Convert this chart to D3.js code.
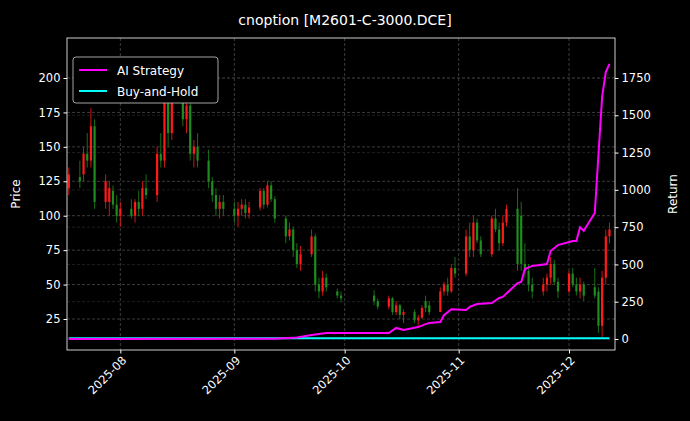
<!DOCTYPE html>
<html><head><meta charset="utf-8">
<script src="https://cdn.jsdelivr.net/npm/d3@7"></script>
<style>body{margin:0;background:#000;}svg{display:block;font-family:"DejaVu Sans",sans-serif;}</style>
</head><body><svg id="c" width="690" height="421"></svg>
<script>
const candles = [
["2025-07-18",120,135,115,130],["2025-07-21",128,140,120,125],["2025-07-22",130,150,125,145],["2025-07-23",145,160,135,140],["2025-07-24",140,178,135,165],["2025-07-25",165,170,105,110],
["2025-07-28",110,130,105,125],["2025-07-29",110,125,100,120],["2025-07-30",118,122,105,108],["2025-07-31",108,115,95,100],["2025-08-01",100,110,92,105],
["2025-08-04",105,112,98,100],["2025-08-05",100,112,95,110],["2025-08-06",110,118,100,105],["2025-08-07",105,125,100,120],["2025-08-08",120,130,112,115],
["2025-08-11",115,150,110,145],["2025-08-12",145,160,135,140],["2025-08-13",140,200,135,190],["2025-08-14",190,195,150,160],["2025-08-15",160,190,155,185],
["2025-08-18",185,195,165,170],["2025-08-19",170,185,160,180],["2025-08-20",180,182,140,145],["2025-08-21",145,155,135,150],["2025-08-22",150,160,135,140],
["2025-08-25",140,148,120,125],["2025-08-26",125,128,110,115],["2025-08-27",115,120,100,105],["2025-08-28",105,115,98,110],["2025-08-29",110,115,100,105],
["2025-09-01",105,110,95,100],["2025-09-02",100,110,92,105],["2025-09-03",105,112,100,108],["2025-09-04",108,112,98,102],["2025-09-05",102,110,98,106],
["2025-09-08",106,120,104,118],["2025-09-09",118,120,105,108],["2025-09-10",108,125,106,122],["2025-09-11",122,125,110,112],["2025-09-12",112,114,95,98],
["2025-09-15",98,100,80,85],["2025-09-16",85,95,82,90],["2025-09-17",90,92,70,75],["2025-09-18",75,80,62,65],["2025-09-19",65,78,60,72],
["2025-09-22",72,90,70,85],["2025-09-23",85,87,45,50],["2025-09-24",50,55,40,45],["2025-09-25",45,60,42,55],["2025-09-26",55,58,45,48],
["2025-09-29",45,47,40,42],["2025-09-30",42,45,37,40],
["2025-10-09",42,46,35,38],["2025-10-10",38,40,32,34],
["2025-10-13",34,42,32,40],["2025-10-14",40,41,28,30],["2025-10-15",30,38,28,35],["2025-10-16",35,36,25,28],["2025-10-17",28,32,22,30],
["2025-10-20",30,32,22,24],["2025-10-21",24,28,20,26],["2025-10-22",26,35,25,33],["2025-10-23",38,42,30,33],["2025-10-24",35,38,28,30],
["2025-10-27",30,48,30,45],["2025-10-28",45,52,42,50],["2025-10-29",50,55,42,45],["2025-10-30",45,65,44,62],["2025-10-31",62,70,55,58],
["2025-11-03",58,90,56,85],["2025-11-04",85,95,70,75],["2025-11-05",75,100,70,95],["2025-11-06",95,98,80,82],["2025-11-07",82,85,70,72],
["2025-11-10",72,100,70,98],["2025-11-11",98,105,88,90],["2025-11-12",90,95,75,80],["2025-11-13",80,100,78,95],["2025-11-14",95,108,92,105],
["2025-11-17",105,120,60,65],["2025-11-18",100,110,60,65],["2025-11-19",65,80,55,60],["2025-11-20",60,65,45,50],["2025-11-21",50,55,40,45],
["2025-11-24",45,55,42,50],["2025-11-25",50,58,45,55],["2025-11-26",55,70,50,65],["2025-11-27",65,68,50,52],["2025-11-28",52,55,40,45],
["2025-12-01",45,60,44,58],["2025-12-02",58,62,48,50],["2025-12-03",50,55,42,45],["2025-12-04",45,55,40,50],["2025-12-05",50,52,38,42],
["2025-12-08",48,62,40,42],["2025-12-09",45,48,15,20],["2025-12-10",20,60,12,55],["2025-12-11",55,90,50,85],["2025-12-12",85,95,80,90]
];
const aiDates = ["2025-07-18","2025-09-12","2025-09-18","2025-09-22","2025-09-26","2025-10-13","2025-10-15","2025-10-17","2025-10-21","2025-10-23","2025-10-24","2025-10-27","2025-10-28","2025-10-30","2025-11-03","2025-11-04","2025-11-06","2025-11-10","2025-11-12","2025-11-13","2025-11-17","2025-11-18","2025-11-19","2025-11-21","2025-11-25","2025-11-26","2025-11-28","2025-12-02","2025-12-03","2025-12-04","2025-12-05","2025-12-08","2025-12-10","2025-12-11","2025-12-12"];
const aiReturn = [0,2,10,27,40,40,74,60,80,100,107,114,160,200,195,215,235,241,275,282,375,382,469,490,503,590,630,657,657,750,725,845,1623,1790,1845];
const bhDates = ["2025-07-18","2025-12-12"];
const bhReturn = [5,5];
const priceTicks = [25,50,75,100,125,150,175,200];
const returnTicks = [0,250,500,750,1000,1250,1500,1750];
const monthTicks = ["2025-08-01","2025-09-01","2025-10-01","2025-11-01","2025-12-01"];

const P = d3.timeParse("%Y-%m-%d");
const svg = d3.select("#c");
const L=67,R=615,T=38,B=350;
const x = d3.scaleTime().domain([new Date(2025,6,17,12),new Date(2025,11,13,12)]).range([L,R]);
const y = d3.scaleLinear().domain([25,200]).range([319,78]);
const y2 = d3.scaleLinear().domain([0,1750]).range([339,78]);
const g = svg.append("g");
g.selectAll(".gx").data(monthTicks).join("line").attr("x1",d=>x(P(d))).attr("x2",d=>x(P(d))).attr("y1",T).attr("y2",B).attr("stroke","#555").attr("stroke-dasharray","3,2").attr("stroke-width",0.7);
g.selectAll(".gy").data(priceTicks).join("line").attr("x1",L).attr("x2",R).attr("y1",d=>y(d)).attr("y2",d=>y(d)).attr("stroke","#555").attr("stroke-dasharray","3,2").attr("stroke-width",0.7);
g.selectAll(".gy2").data(returnTicks).join("line").attr("x1",L).attr("x2",R).attr("y1",d=>y2(d)).attr("y2",d=>y2(d)).attr("stroke","#333").attr("stroke-dasharray","3,2").attr("stroke-width",0.6);
const cg = svg.append("g");
candles.forEach(([d,o,h,l,c])=>{
  const col = c>=o ? "#ff1a1a" : "#1e8c1e";
  const cx = x(P(d));
  cg.append("line").attr("x1",cx).attr("x2",cx).attr("y1",y(h)).attr("y2",y(l)).attr("stroke",col).attr("stroke-width",0.8);
  cg.append("rect").attr("x",cx-1.1).attr("width",2.2).attr("y",y(Math.max(o,c))).attr("height",Math.max(0.8,Math.abs(y(o)-y(c)))).attr("fill",col);
});
const line = d3.line().x(d=>x(P(d[0]))).y(d=>y2(d[1]));
svg.append("path").datum(bhDates.map((d,i)=>[d,bhReturn[i]])).attr("d",line).attr("fill","none").attr("stroke","#00ffff").attr("stroke-width",2);
svg.append("path").datum(aiDates.map((d,i)=>[d,aiReturn[i]])).attr("d",line).attr("fill","none").attr("stroke","#ff00ff").attr("stroke-width",2);
svg.append("rect").attr("x",L).attr("y",T).attr("width",R-L).attr("height",B-T).attr("fill","none").attr("stroke","#fff").attr("stroke-width",0.8);
const ax = svg.append("g").attr("transform",`translate(0,${B})`).call(d3.axisBottom(x).tickValues(monthTicks.map(P)).tickFormat(d3.timeFormat("%Y-%m")).tickSize(3.5));
ax.selectAll("text").attr("transform","rotate(-45)").attr("text-anchor","end").attr("dx","-0.3em").attr("dy","0.5em");
const ay = svg.append("g").attr("transform",`translate(${L},0)`).call(d3.axisLeft(y).tickValues(priceTicks).tickSize(3.5));
const ay2 = svg.append("g").attr("transform",`translate(${R},0)`).call(d3.axisRight(y2).tickValues(returnTicks).tickFormat(d3.format("d")).tickSize(3.5));
[ax,ay,ay2].forEach(a=>{a.select(".domain").remove();a.selectAll("line").attr("stroke","#fff");a.selectAll("text").attr("fill","#fff").attr("font-size","11.5px").style("font-family","DejaVu Sans");});
svg.append("text").attr("x",345).attr("y",25).attr("text-anchor","middle").attr("fill","#fff").attr("font-size","14px").text("cnoption [M2601-C-3000.DCE]");
svg.append("text").attr("transform","translate(20,194) rotate(-90)").attr("text-anchor","middle").attr("fill","#fff").attr("font-size","12px").text("Price");
svg.append("text").attr("transform","translate(677,194) rotate(-90)").attr("text-anchor","middle").attr("fill","#fff").attr("font-size","12px").text("Return");
const lg = svg.append("g");
lg.append("rect").attr("x",73).attr("y",57).attr("width",145).attr("height",46).attr("rx",3).attr("fill","#000").attr("stroke","#ccc").attr("stroke-width",0.8);
[["AI Strategy","#ff00ff"],["Buy-and-Hold","#00ffff"]].forEach(([t,c],i)=>{
  lg.append("line").attr("x1",79).attr("x2",107).attr("y1",70+i*21).attr("y2",70+i*21).attr("stroke",c).attr("stroke-width",2);
  lg.append("text").attr("x",117).attr("y",74.5+i*21).attr("fill","#fff").attr("font-size","12px").text(t);
});
</script></body></html>
